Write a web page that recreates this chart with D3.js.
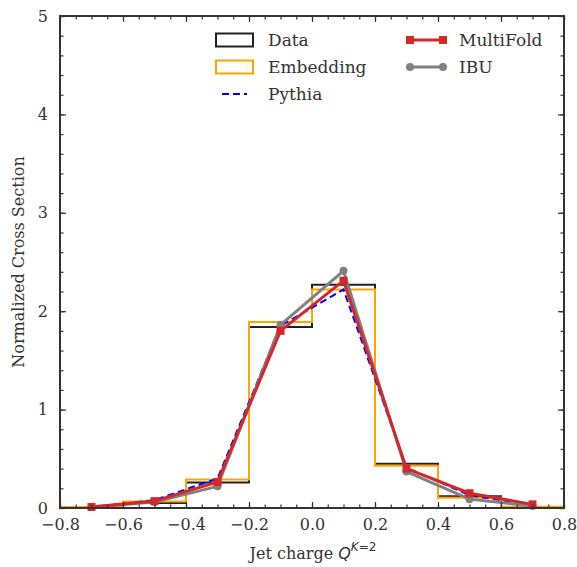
<!DOCTYPE html>
<html>
<head>
<meta charset="utf-8">
<script src="https://cdn.jsdelivr.net/npm/d3@7"></script>
<style>
  body { margin: 0; background: #fff; }
  svg text { font-family: "DejaVu Serif", serif; fill: #333; }
</style>
</head>
<body>
<div id="chart"></div>
<script>
// bin edges and centres
const edges = [-0.8, -0.6, -0.4, -0.2, 0.0, 0.2, 0.4, 0.6, 0.8];
const centers = [-0.7, -0.5, -0.3, -0.1, 0.1, 0.3, 0.5, 0.7];

// histograms (per bin)
const dataVals = [0.01, 0.05, 0.26, 1.84, 2.27, 0.45, 0.12, 0.01];
const embVals  = [0.01, 0.065, 0.29, 1.89, 2.22, 0.43, 0.105, 0.013];

// unfolded / truth curves at bin centres
const pythiaVals    = [0.01, 0.08, 0.30, 1.85, 2.22, 0.41, 0.13, 0.03];
const ibuVals       = [0.01, 0.06, 0.22, 1.86, 2.41, 0.37, 0.09, 0.02];
const multifoldVals = [0.01, 0.07, 0.265, 1.80, 2.31, 0.40, 0.15, 0.037];

const xTicks = [-0.8, -0.6, -0.4, -0.2, 0.0, 0.2, 0.4, 0.6, 0.8];
const yTicks = [0, 1, 2, 3, 4, 5];

const W = 577, H = 567;
const L = 60, R = 564, T = 16, B = 508;

const svg = d3.select("#chart").append("svg")
  .attr("width", W).attr("height", H);

const x = d3.scaleLinear().domain([-0.8, 0.8]).range([L, R]);
const y = d3.scaleLinear().domain([0, 5]).range([B, T]);

// step outline like matplotlib histtype='step'
function stepPoints(vals) {
  const pts = [[edges[0], 0]];
  vals.forEach(function (v, i) {
    pts.push([edges[i], v]);
    pts.push([edges[i + 1], v]);
  });
  pts.push([edges[edges.length - 1], 0]);
  return pts;
}
const line = d3.line().x(d => x(d[0])).y(d => y(d[1]));

const plot = svg.append("g");

plot.append("path").attr("d", line(stepPoints(dataVals)))
  .attr("fill", "none").attr("stroke", "#222").attr("stroke-width", 2);
plot.append("path").attr("d", line(stepPoints(embVals)))
  .attr("fill", "none").attr("stroke", "orange").attr("stroke-width", 2);

const ptLine = d3.line().x((d, i) => x(centers[i])).y(d => y(d));

plot.append("path").attr("d", ptLine(pythiaVals))
  .attr("fill", "none").attr("stroke", "blue").attr("stroke-width", 2)
  .attr("stroke-dasharray", "7,4");

plot.append("path").attr("d", ptLine(ibuVals))
  .attr("fill", "none").attr("stroke", "gray").attr("stroke-width", 3);
plot.selectAll(".ibu").data(ibuVals).enter().append("circle")
  .attr("cx", (d, i) => x(centers[i])).attr("cy", d => y(d))
  .attr("r", 4).attr("fill", "gray");

plot.append("path").attr("d", ptLine(multifoldVals))
  .attr("fill", "none").attr("stroke", "#d62728").attr("stroke-width", 3);
plot.selectAll(".mf").data(multifoldVals).enter().append("rect")
  .attr("x", (d, i) => x(centers[i]) - 4).attr("y", d => y(d) - 4)
  .attr("width", 8).attr("height", 8).attr("fill", "#d62728");

// axes: ticks inward on all sides
const major = 6, minor = 3.5;
const xMinor = d3.range(-0.8, 0.8001, 0.05);
const yMinor = d3.range(0, 5.0001, 0.2);

const axes = svg.append("g");

axes.append("g").attr("transform", "translate(0," + B + ")")
  .call(d3.axisBottom(x).tickValues(xMinor).tickSize(-minor).tickFormat(""));
axes.append("g").attr("transform", "translate(0," + B + ")")
  .call(d3.axisBottom(x).tickValues(xTicks).tickSizeInner(-major).tickSizeOuter(0).tickPadding(11)
    .tickFormat(d => d3.format(".1f")(d).replace("-", "\u2212")));
axes.append("g").attr("transform", "translate(0," + T + ")")
  .call(d3.axisTop(x).tickValues(xMinor).tickSize(-minor).tickFormat(""));
axes.append("g").attr("transform", "translate(0," + T + ")")
  .call(d3.axisTop(x).tickValues(xTicks).tickSize(-major).tickFormat(""));

axes.append("g").attr("transform", "translate(" + L + ",0)")
  .call(d3.axisLeft(y).tickValues(yMinor).tickSize(-minor).tickFormat(""));
axes.append("g").attr("transform", "translate(" + L + ",0)")
  .call(d3.axisLeft(y).tickValues(yTicks).tickSizeInner(-major).tickSizeOuter(0).tickPadding(12)
    .tickFormat(d3.format("d")));
axes.append("g").attr("transform", "translate(" + R + ",0)")
  .call(d3.axisRight(y).tickValues(yMinor).tickSize(-minor).tickFormat(""));
axes.append("g").attr("transform", "translate(" + R + ",0)")
  .call(d3.axisRight(y).tickValues(yTicks).tickSize(-major).tickFormat(""));

axes.selectAll(".domain").remove();
axes.selectAll(".tick line").attr("stroke", "#333").attr("stroke-width", 1.2);
axes.selectAll(".tick text").attr("font-size", 16).attr("fill", "#333")
  .attr("font-family", "DejaVu Serif, serif");

svg.append("rect").attr("x", L).attr("y", T).attr("width", R - L).attr("height", B - T)
  .attr("fill", "none").attr("stroke", "#333").attr("stroke-width", 2);

// axis labels
svg.append("text").attr("transform", "translate(24," + ((T + B) / 2) + ") rotate(-90)")
  .attr("text-anchor", "middle").attr("font-size", 16)
  .text("Normalized Cross Section");

const xl = svg.append("text").attr("x", 313).attr("y", 559)
  .attr("text-anchor", "middle").attr("font-size", 16);
xl.append("tspan").text("Jet charge ");
xl.append("tspan").attr("font-style", "italic").attr("font-family", "DejaVu Sans, sans-serif").text("Q");
xl.append("tspan").attr("dy", -8).attr("font-size", 12).attr("font-style", "italic")
  .attr("font-family", "DejaVu Sans, sans-serif").text("K");
xl.append("tspan").attr("font-size", 12).attr("font-family", "DejaVu Sans, sans-serif").text("=2");

// legend
const leg = svg.append("g");
const lx1 = 216, lx2 = 410, tx1 = 268, tx2 = 459;
const rows = [40, 67, 94];

leg.append("rect").attr("x", lx1).attr("y", rows[0] - 6.5).attr("width", 37).attr("height", 13)
  .attr("fill", "none").attr("stroke", "#222").attr("stroke-width", 2);
leg.append("rect").attr("x", lx1).attr("y", rows[1] - 6.5).attr("width", 37).attr("height", 13)
  .attr("fill", "none").attr("stroke", "orange").attr("stroke-width", 2);
leg.append("line").attr("x1", lx1 + 6).attr("x2", lx1 + 31).attr("y1", rows[2]).attr("y2", rows[2])
  .attr("stroke", "blue").attr("stroke-width", 2).attr("stroke-dasharray", "7,4");

leg.append("line").attr("x1", lx2).attr("x2", lx2 + 33).attr("y1", rows[0]).attr("y2", rows[0])
  .attr("stroke", "#d62728").attr("stroke-width", 3);
[lx2, lx2 + 33].forEach(function (px) {
  leg.append("rect").attr("x", px - 4).attr("y", rows[0] - 4).attr("width", 8).attr("height", 8)
    .attr("fill", "#d62728");
  leg.append("circle").attr("cx", px).attr("cy", rows[1]).attr("r", 4).attr("fill", "gray");
});
leg.append("line").attr("x1", lx2).attr("x2", lx2 + 33).attr("y1", rows[1]).attr("y2", rows[1])
  .attr("stroke", "gray").attr("stroke-width", 3);

const labels1 = ["Data", "Embedding", "Pythia"];
const labels2 = ["MultiFold", "IBU"];
labels1.forEach(function (t, i) {
  leg.append("text").attr("x", tx1).attr("y", rows[i] + 6).attr("font-size", 17).text(t);
});
labels2.forEach(function (t, i) {
  leg.append("text").attr("x", tx2).attr("y", rows[i] + 6).attr("font-size", 17).text(t);
});
</script>
</body>
</html>
